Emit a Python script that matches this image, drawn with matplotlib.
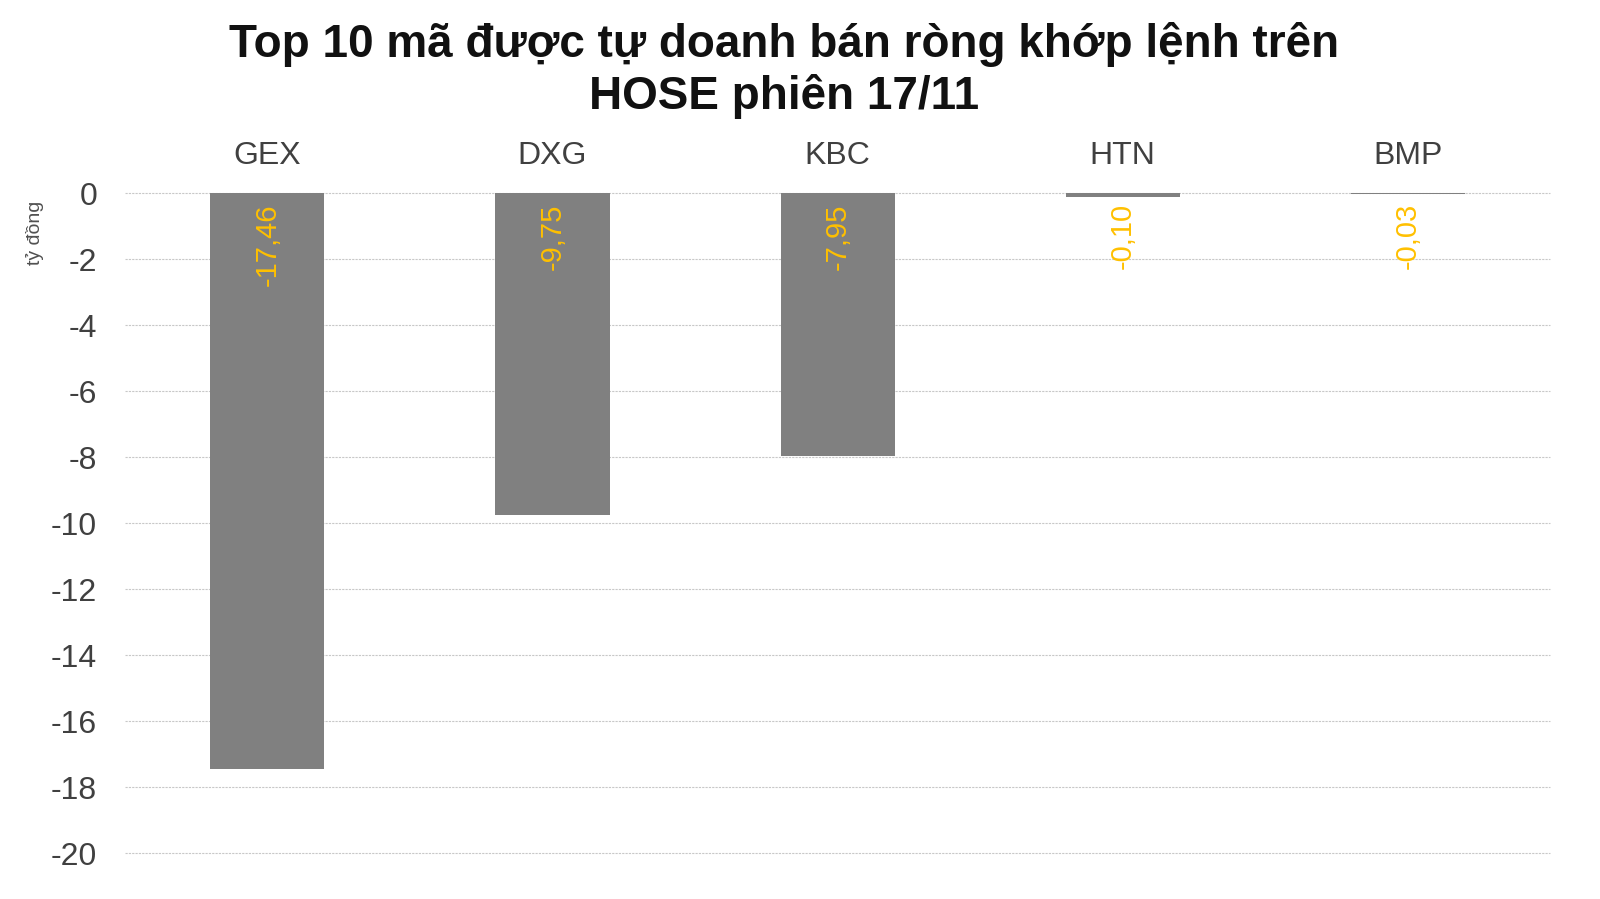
import numpy as np
from matplotlib import pyplot as plt

codes = ['GEX', 'DXG', 'KBC', 'HTN', 'BMP']
values = [-17.46, -9.75, -7.95, -0.10, -0.03]
yticks = [0, -2, -4, -6, -8, -10, -12, -14, -16, -18, -20]

plt.rcParams['font.family'] = ['Liberation Sans', 'DejaVu Sans']

fig = plt.figure(figsize=(16, 8.99), dpi=100)
ax = fig.add_axes([0.078, 0.051, 0.891, 0.734])

x = np.arange(len(codes))
ax.bar(x, values, width=0.4, color='#808080', zorder=3)

for xi, v in zip(x, values):
    label = ('%.2f' % v).replace('.', ',')
    ax.text(xi, -0.3, label, rotation=90, ha='center', va='top',
            color='#FFC000', fontsize=21, zorder=4)

ax.set_xlim(-0.5, len(codes) - 0.5)
ax.set_ylim(-20, 0)
ax.set_yticks(yticks)
ax.set_yticklabels([str(t) for t in yticks], fontsize=23, color='#404040')
ax.xaxis.tick_top()
ax.set_xticks(x)
ax.set_xticklabels(codes, fontsize=23, color='#404040')
ax.tick_params(axis='both', length=0)
ax.tick_params(axis='x', pad=16)
ax.tick_params(axis='y', pad=20)
ax.grid(axis='y', color='#c8c8c8', linestyle=(0, (2, 1)), linewidth=0.8, zorder=0)
for gl in ax.get_ygridlines():
    gl.set_clip_on(False)
for s in ax.spines.values():
    s.set_visible(False)

ax.set_ylabel('tỷ đồng', fontsize=14, color='#505050')
ax.yaxis.set_label_coords(-0.057, 0.94)

fig.suptitle('Top 10 mã được tự doanh bán ròng khớp lệnh trên\nHOSE phiên 17/11',
             x=0.49, y=0.976, fontsize=33, fontweight='bold', color='#111111',
             linespacing=1.22)

fig.savefig('out.png', dpi=100)
